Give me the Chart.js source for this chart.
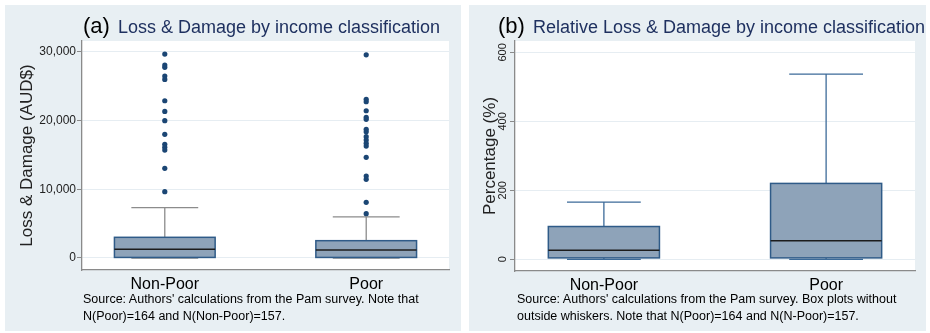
<!DOCTYPE html>
<html>
<head>
<meta charset="utf-8">
<script src="https://cdn.jsdelivr.net/npm/chart.js@4.4.1/dist/chart.umd.min.js"></script>
<style>
  body { margin: 0; background: #fff; font-family: "Liberation Sans", Arial, sans-serif; }
  .panel { position: absolute; top: 5px; height: 326px; background: #e8eff3; }
  #panelA { left: 5px; width: 456px; }
  #panelB { left: 469px; width: 457px; }
  .panel canvas { position: absolute; left: 0; top: 0; }
  .title { position: absolute; top: 10px; font-size: 18px; line-height: 22px; color: #1f3160; white-space: nowrap; }
  .title span { font-size: 22px; color: #000; margin-right: 3px; }
  .note { position: absolute; top: 286px; font-size: 12.5px; line-height: 16.5px; color: #000; white-space: nowrap; }
</style>
</head>
<body>
<div class="panel" id="panelA">
  <canvas id="chartA" width="456" height="326"></canvas>
  <div class="title" style="left:78px"><span>(a)</span> Loss &amp; Damage by income classification</div>
  <div class="note" style="left:78px">Source: Authors' calculations from the Pam survey. Note that<br>N(Poor)=164 and N(Non-Poor)=157.</div>
</div>
<div class="panel" id="panelB">
  <canvas id="chartB" width="457" height="326"></canvas>
  <div class="title" style="left:29px"><span>(b)</span> Relative Loss &amp; Damage by income classification</div>
  <div class="note" style="left:48px">Source: Authors' calculations from the Pam survey. Box plots without<br>outside whiskers. Note that N(Poor)=164 and N(N-Poor)=157.</div>
</div>
<script>
const categories = ['Non-Poor', 'Poor'];

// (a) Loss & Damage, AUD$
const lossLow = [0, 0];
const lossQ1 = [80, 80];
const lossMedian = [1260, 1170];
const lossQ3 = [3010, 2520];
const lossHigh = [7320, 5990];
const lossOutNonPoor = [29690, 28090, 27760, 26490, 26010, 22900, 21350, 19990, 18010, 16550, 16110, 15720, 13060, 9650];
const lossOutPoor = [29590, 23100, 22750, 21440, 20480, 20190, 18730, 18380, 17660, 17180, 16700, 16300, 14660, 11940, 11460, 8110, 6450];
const lossTicks = [0, 10000, 20000, 30000];

// (b) Relative Loss & Damage, %
const relLow = [0, 0];
const relQ1 = [4, 4];
const relMedian = [26, 54];
const relQ3 = [95, 220];
const relHigh = [166, 537];
const relTicks = [0, 200, 400, 600];

const BOX_FILL = '#8ea3b9';
const BOX_LINE = '#2f5b88';
const DOT = '#1b4674';
const AXIS = '#8a8a8a';
const GRID = '#e6edf2';

/** Fills the plot area white, like the Stata scheme */
const plotBackground = {
  id: 'plotBackground',
  beforeDraw(chart) {
    const { ctx, chartArea: a } = chart;
    ctx.save();
    ctx.fillStyle = '#fff';
    ctx.fillRect(a.left, a.top, a.right - a.left, a.bottom - a.top);
    ctx.restore();
  }
};

/** Draws boxes, medians and whiskers from the stats arrays through the scales */
const boxPlot = {
  id: 'boxPlot',
  beforeDatasetsDraw(chart, args, opts) {
    const { ctx, scales: { x, y } } = chart;
    ctx.save();
    opts.median.forEach((med, i) => {
      const cx = i + 1;
      const xl = x.getPixelForValue(cx - 0.25), xr = x.getPixelForValue(cx + 0.25);
      const wl = x.getPixelForValue(cx - 0.166), wr = x.getPixelForValue(cx + 0.166);
      const xc = x.getPixelForValue(cx);
      const yq1 = y.getPixelForValue(opts.q1[i]), yq3 = y.getPixelForValue(opts.q3[i]);
      const ylo = y.getPixelForValue(opts.low[i]), yhi = y.getPixelForValue(opts.high[i]);
      // whiskers
      ctx.strokeStyle = opts.whiskerColor;
      ctx.lineWidth = 1.3;
      ctx.beginPath();
      ctx.moveTo(xc, yq3); ctx.lineTo(xc, yhi);
      ctx.moveTo(wl, yhi); ctx.lineTo(wr, yhi);
      ctx.moveTo(xc, yq1); ctx.lineTo(xc, ylo);
      ctx.moveTo(wl, ylo); ctx.lineTo(wr, ylo);
      ctx.stroke();
      // box
      ctx.fillStyle = BOX_FILL;
      ctx.strokeStyle = BOX_LINE;
      ctx.lineWidth = 1.5;
      ctx.fillRect(xl, yq3, xr - xl, yq1 - yq3);
      ctx.strokeRect(xl, yq3, xr - xl, yq1 - yq3);
      // median
      const ym = y.getPixelForValue(med);
      ctx.strokeStyle = '#1c1c1c';
      ctx.lineWidth = 1.5;
      ctx.beginPath();
      ctx.moveTo(xl, ym); ctx.lineTo(xr, ym);
      ctx.stroke();
    });
    ctx.restore();
  }
};

/** Vertical tick labels for panel (b) */
const rotatedTicks = {
  id: 'rotatedTicks',
  afterDraw(chart, args, opts) {
    if (!opts.enabled) return;
    const { ctx, scales: { y } } = chart;
    ctx.save();
    ctx.font = '11px "Liberation Sans", Arial, sans-serif';
    ctx.fillStyle = '#222';
    ctx.textAlign = 'center';
    ctx.textBaseline = 'middle';
    y.ticks.forEach(t => {
      ctx.save();
      ctx.translate(y.right - 12, y.getPixelForValue(t.value));
      ctx.rotate(-Math.PI / 2);
      ctx.fillText(String(t.value), 0, 0);
      ctx.restore();
    });
    ctx.restore();
  }
};

function makeChart(id, cfg) {
  const outliers = [];
  cfg.outliers.forEach((list, i) => list.forEach(v => outliers.push({ x: i + 1, y: v })));

  return new Chart(document.getElementById(id), {
    type: 'scatter',
    data: {
      datasets: [{
        data: outliers,
        pointRadius: 2.6,
        pointHoverRadius: 2.6,
        pointBackgroundColor: DOT,
        pointBorderColor: DOT,
        pointBorderWidth: 0
      }]
    },
    plugins: [plotBackground, boxPlot, rotatedTicks],
    options: {
      responsive: false,
      animation: false,
      layout: { padding: { top: 36, right: cfg.padRight, left: 0, bottom: 0 } },
      plugins: {
        legend: { display: false },
        tooltip: { enabled: false },
        boxPlot: cfg.stats,
        rotatedTicks: { enabled: cfg.rotated }
      },
      scales: {
        x: {
          type: 'linear',
          min: cfg.xMin,
          max: cfg.xMax,
          afterBuildTicks: axis => { axis.ticks = categories.map((c, i) => ({ value: i + 1 })); },
          afterFit: axis => { axis.height = cfg.xHeight; },
          ticks: {
            callback: v => categories[v - 1],
            font: { family: '"Liberation Sans", Arial, sans-serif', size: 16 },
            color: '#000',
            padding: 5,
            maxRotation: 0
          },
          grid: { display: true, drawOnChartArea: false, drawTicks: false },
          border: { color: AXIS, width: 1.3 }
        },
        y: {
          min: cfg.yMin,
          max: cfg.yMax,
          afterBuildTicks: axis => { axis.ticks = cfg.ticks.map(v => ({ value: v })); },
          afterFit: axis => { axis.width = cfg.yWidth; },
          ticks: {
            display: !cfg.rotated,
            callback: v => v.toLocaleString('en-US'),
            font: { family: '"Liberation Sans", Arial, sans-serif', size: 12 },
            color: '#222',
            padding: 1
          },
          grid: { color: GRID, lineWidth: 1, tickColor: AXIS, tickLength: 5 },
          border: { color: AXIS, width: 1.3 },
          title: {
            display: true,
            text: cfg.yTitle,
            font: { family: '"Liberation Sans", Arial, sans-serif', size: 17 },
            color: '#222',
            padding: { top: cfg.titlePad, bottom: 0 }
          }
        }
      }
    }
  });
}

makeChart('chartA', {
  outliers: [lossOutNonPoor, lossOutPoor],
  stats: { low: lossLow, q1: lossQ1, median: lossMedian, q3: lossQ3, high: lossHigh, whiskerColor: '#8c8c8c' },
  ticks: lossTicks,
  yMin: -1750, yMax: 31600,
  xMin: 0.589, xMax: 2.411,
  yWidth: 77, xHeight: 61, padRight: 12,
  yTitle: 'Loss & Damage (AUD$)',
  titlePad: 12,
  rotated: false
});

makeChart('chartB', {
  outliers: [[], []],
  stats: { low: relLow, q1: relQ1, median: relMedian, q3: relQ3, high: relHigh, whiskerColor: '#3d6b99' },
  ticks: relTicks,
  yMin: -34, yMax: 633,
  xMin: 0.6, xMax: 2.4,
  yWidth: 46, xHeight: 60, padRight: 11,
  yTitle: 'Percentage (%)',
  titlePad: 11,
  rotated: true
});
</script>
</body>
</html>
